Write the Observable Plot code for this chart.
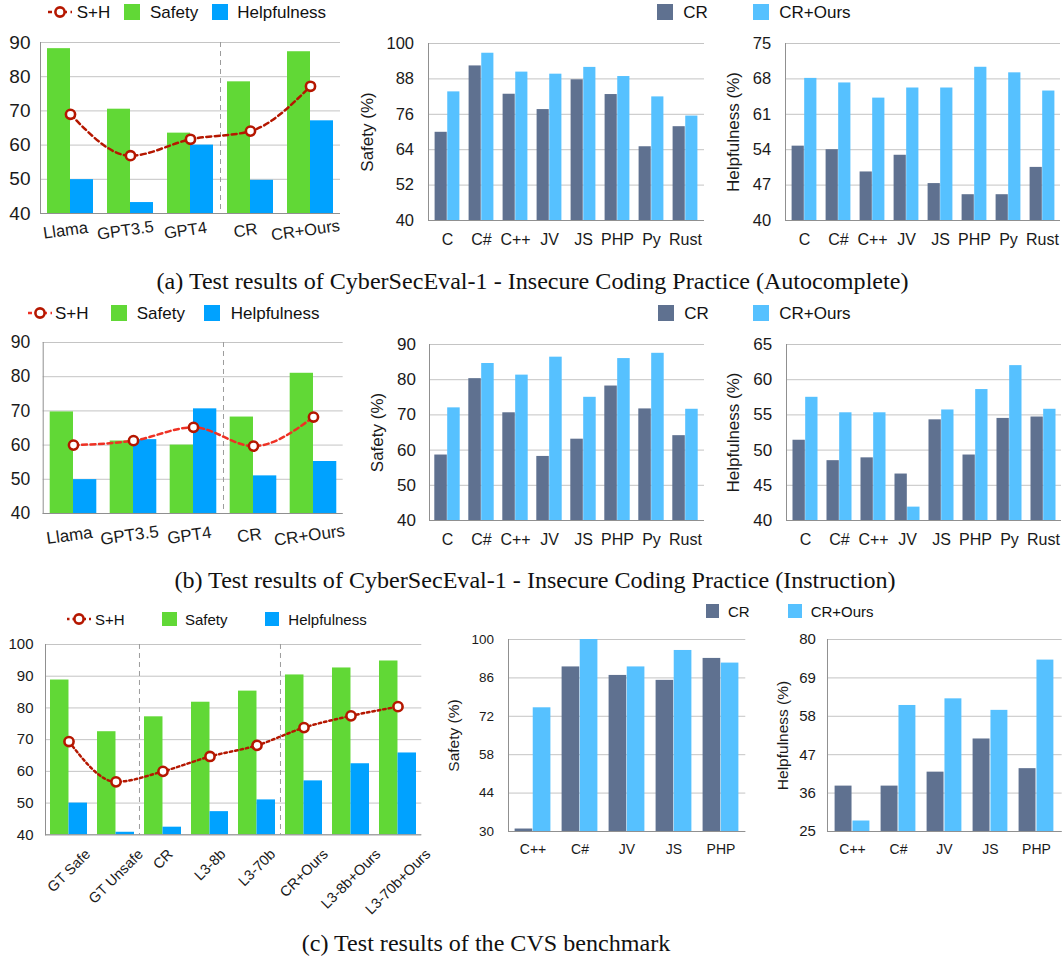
<!DOCTYPE html>
<html><head><meta charset="utf-8">
<script src="https://cdn.jsdelivr.net/npm/d3@7"></script>
<script src="https://cdn.jsdelivr.net/npm/@observablehq/plot@0.6"></script>
<style>
body{margin:0;background:#fff;width:1063px;height:957px;position:relative;overflow:hidden;font-family:"Liberation Sans",Arial,sans-serif;color:#1a1a1a;}
.abs{position:absolute;}
.cap{position:absolute;font-family:"Liberation Serif","Times New Roman",serif;font-size:24.1px;color:#111;white-space:nowrap;transform:translate(-50%,-50%);line-height:1;}
.lt{position:absolute;white-space:nowrap;transform:translateY(-50%);line-height:1;color:#111;}
svg{overflow:visible;}
</style></head><body>
<script>
// ---------- data ----------
const aModels = ["Llama","GPT3.5","GPT4","CR","CR+Ours"];
const aSafety = [88.2,70.5,63.5,78.5,87.3];
const aHelp   = [49.9,43.2,60.0,49.7,67.1];
const aSH     = [69.0,56.9,61.7,64.1,77.2];
const langs8  = ["C","C#","C++","JV","JS","PHP","Py","Rust"];
const aSafeCR   = [69.9,92.4,82.8,77.6,87.7,82.7,65.0,71.8];
const aSafeOurs = [83.6,96.7,90.3,89.6,91.9,88.8,81.9,75.4];
const aHelpCR   = [54.7,54.0,49.6,52.9,47.3,45.1,45.1,50.5];
const aHelpOurs = [68.1,67.2,64.2,66.2,66.2,70.3,69.2,65.6];

const bSafety = [69.7,61.2,60.0,68.2,81.0];
const bHelp   = [49.9,61.6,70.6,51.0,55.2];
const bSH     = [60.0,61.3,65.2,59.7,68.2];
const bSafeCR   = [58.6,80.3,70.6,58.2,63.1,78.2,71.7,64.1];
const bSafeOurs = [72.0,84.6,81.3,86.4,75.0,86.0,87.5,71.6];
const bHelpCR   = [51.4,48.5,48.9,46.6,54.3,49.3,54.5,54.7];
const bHelpOurs = [57.5,55.3,55.3,41.9,55.7,58.6,62.0,55.8];

const cModels = ["GT Safe","GT Unsafe","CR","L3-8b","L3-70b","CR+Ours","L3-8b+Ours","L3-70b+Ours"];
const cSafety = [88.8,72.5,77.2,81.8,85.3,90.4,92.6,94.8];
const cHelp   = [50.0,40.8,42.4,47.3,51.0,57.0,62.4,65.8];
const cSH     = [69.4,56.7,60.0,64.7,68.2,73.8,77.5,80.4];
const langs5  = ["C++","C#","JV","JS","PHP"];
const cSafeCR   = [30.9,90.0,86.9,85.1,93.1];
const cSafeOurs = [75.1,100,90.0,96.0,91.4];
const cHelpCR   = [38.0,38.0,42.0,51.5,43.0];
const cHelpOurs = [28.0,61.1,63.0,59.7,74.1];

const ticksLeftAB = [40,50,60,70,80,90];
const ticksASafe  = [40,52,64,76,88,100];
const ticksAHelp  = [40,47,54,61,68,75];
const ticksBSafe  = [40,50,60,70,80,90];
const ticksBHelp  = [40,45,50,55,60,65];
const ticksCLeft  = [40,50,60,70,80,90,100];
const ticksCSafe  = [30,44,58,72,86,100];
const ticksCHelp  = [25,36,47,58,69,80];

const legendLeft  = ["S+H","Safety","Helpfulness"];
const legendRight = ["CR","CR+Ours"];
const captions = [
  "(a) Test results of CyberSecEval-1 - Insecure Coding Practice (Autocomplete)",
  "(b) Test results of CyberSecEval-1 - Insecure Coding Practice (Instruction)",
  "(c) Test results of the CVS benchmark"
];

// ---------- styles ----------
const GREEN="#61d836", BLUE="#00a2ff", SLATE="#5f7190", SKY="#56c1ff", DRED="#b51700", RED="#ee3124";
const GRID="#c4c4c4", AXIS="#909090";

function panel(o){
  const n=o.cats.length, fw=o.x1-o.x0, fh=o.y1-o.y0;
  const step=fw/n, w=(step-2*o.gap)/2;
  const rows=o.cats.map((c,i)=>({c, a:o.s1[i], b:o.s2[i], l:o.line?o.line[i]:undefined}));
  const ymin=o.yDomain[0];
  const marks=[
    Plot.gridY(o.yTicks,{stroke:GRID,strokeOpacity:1,strokeWidth:1}),
    Plot.barY(rows,{x:"c",y1:ymin,y2:"a",fill:o.c1,insetLeft:o.gap,insetRight:o.gap+w}),
    Plot.barY(rows,{x:"c",y1:ymin,y2:"b",fill:o.c2,insetLeft:o.gap+w,insetRight:o.gap}),
    Plot.frame({anchor:"left",stroke:AXIS}),
    Plot.ruleY([ymin],{stroke:AXIS}),
    Plot.axisY(o.yTicks,{tickSize:0,tickPadding:o.tickPad,fontSize:o.yFont,label:null,fill:"#1a1a1a"})
  ];
  if(o.seps) marks.push(Plot.ruleX(o.seps,{dx:-step/2,stroke:"#9c9c9c",strokeDasharray:"5,4",strokeWidth:1}));
  if(o.line){
    marks.push(Plot.lineY(rows,{x:"c",y:"l",stroke:o.lineColor,strokeWidth:2.5,strokeDasharray:o.dash,curve:"monotone-x"}));
    marks.push(Plot.dot(rows,{x:"c",y:"l",r:4.6,fill:"white",stroke:o.dotColor,strokeWidth:2.6}));
  }
  if(o.yLabel) marks.push(Plot.text([o.yLabel],{frameAnchor:"left",rotate:-90,dx:-o.labelOffset,fontSize:o.labelFont,lineAnchor:"top",textAnchor:"middle",fill:"#1a1a1a"}));
  if(o.xMode==="axis"){
    marks.push(Plot.axisX({tickSize:0,tickPadding:13,fontSize:o.xFont,label:null,fill:"#1a1a1a"}));
  } else {
    marks.push(Plot.text(rows,{x:"c",y:ymin,text:"c",rotate:o.xRotate,dy:o.xDy,dx:o.xDx||0,fontSize:o.xFont,textAnchor:"middle",lineAnchor:"middle",fill:"#1a1a1a",ariaLabel:"xlab"}));
  }
  const svg=Plot.plot({
    width:fw+o.ml+o.mr, height:fh+o.mt+o.mb,
    marginLeft:o.ml, marginRight:o.mr, marginTop:o.mt, marginBottom:o.mb,
    x:{domain:o.cats,padding:0,axis:null},
    y:{domain:o.yDomain,axis:null},
    style:{fontFamily:"'Liberation Sans',Arial,sans-serif",background:"transparent",color:"#1a1a1a",overflow:"visible"},
    marks
  });
  svg.style.position="absolute";
  svg.style.left=(o.x0-o.ml)+"px";
  svg.style.top=(o.y0-o.mt)+"px";
  document.body.appendChild(svg);
  if(o.xMode==="diag"){
    const labels=new Set(o.cats);
    svg.querySelectorAll("text").forEach(t=>{
      if(!labels.has(t.textContent)) return;
      let L=t.getComputedTextLength();
      if(!L) L=t.getBBox().width;
      const d=0.354*L;
      // wrap in a group shifted downward in page coordinates
      const g=document.createElementNS("http://www.w3.org/2000/svg","g");
      g.setAttribute("transform",`translate(0,${d})`);
      t.parentNode.insertBefore(g,t);
      g.appendChild(t);
    });
  }
  return svg;
}

// ---------- row (a) ----------
panel({cats:aModels,s1:aSafety,s2:aHelp,line:aSH,c1:GREEN,c2:BLUE,lineColor:DRED,dotColor:DRED,dash:"5,3.5",
  x0:40,x1:340,y0:41.7,y1:212.7,ml:40,mr:5,mt:10,mb:40,gap:7,yDomain:[40,90],yTicks:ticksLeftAB,
  yFont:19,tickPad:10,xMode:"text",xRotate:-8,xDy:17,xDx:-5,xFont:16.5,seps:["CR"]});
panel({cats:langs8,s1:aSafeCR,s2:aSafeOurs,c1:SLATE,c2:SKY,
  x0:427.7,x1:703.7,y0:43.3,y1:220.3,ml:75,mr:3,mt:10,mb:35,gap:4.6,yDomain:[40,100],yTicks:ticksASafe,
  yFont:16.5,tickPad:14.5,yLabel:"Safety (%)",labelOffset:67.7,labelFont:17,xMode:"axis",xFont:16});
panel({cats:langs8,s1:aHelpCR,s2:aHelpOurs,c1:SLATE,c2:SKY,
  x0:785,x1:1060,y0:43.3,y1:220.3,ml:62,mr:3,mt:10,mb:35,gap:4.6,yDomain:[40,75],yTicks:ticksAHelp,
  yFont:16.5,tickPad:14.3,yLabel:"Helpfulness (%)",labelOffset:58.3,labelFont:17,xMode:"axis",xFont:16});

// ---------- row (b) ----------
panel({cats:aModels,s1:bSafety,s2:bHelp,line:bSH,c1:GREEN,c2:BLUE,lineColor:RED,dotColor:DRED,dash:"5,3.5",
  x0:42.7,x1:342.7,y0:342.3,y1:513.3,ml:42.7,mr:5,mt:10,mb:40,gap:6.7,yDomain:[40,90],yTicks:ticksLeftAB,
  yFont:17.5,tickPad:13,xMode:"text",xRotate:-8,xDy:22,xDx:-4,xFont:17,seps:["CR"]});
panel({cats:langs8,s1:bSafeCR,s2:bSafeOurs,c1:SLATE,c2:SKY,
  x0:429.3,x1:704.3,y0:344.3,y1:520.3,ml:75,mr:3,mt:10,mb:35,gap:4.3,yDomain:[40,90],yTicks:ticksBSafe,
  yFont:17,tickPad:13.6,yLabel:"Safety (%)",labelOffset:58.3,labelFont:17,xMode:"axis",xFont:16});
panel({cats:langs8,s1:bHelpCR,s2:bHelpOurs,c1:SLATE,c2:SKY,
  x0:786,x1:1061,y0:344.3,y1:520.3,ml:62,mr:2,mt:10,mb:35,gap:4.5,yDomain:[40,65],yTicks:ticksBHelp,
  yFont:17,tickPad:14.3,yLabel:"Helpfulness (%)",labelOffset:59.3,labelFont:17,xMode:"axis",xFont:16});

// ---------- row (c) ----------
panel({cats:cModels,s1:cSafety,s2:cHelp,line:cSH,c1:GREEN,c2:BLUE,lineColor:DRED,dotColor:DRED,dash:"2.5,3",
  x0:45,x1:421.3,y0:644,y1:834.3,ml:45,mr:5,mt:10,mb:110,gap:5,yDomain:[40,100],yTicks:ticksCLeft,
  yFont:15,tickPad:12,xMode:"diag",xRotate:-45,xDy:17,xFont:14.5,seps:["CR","CR+Ours"]});
panel({cats:langs5,s1:cSafeCR,s2:cSafeOurs,c1:SLATE,c2:SKY,
  x0:507.7,x1:745,y0:639,y1:831,ml:66,mr:3,mt:10,mb:35,gap:5.6,yDomain:[30,100],yTicks:ticksCSafe,
  yFont:13.5,tickPad:14.4,yLabel:"Safety (%)",labelOffset:60.4,labelFont:15.5,xMode:"axis",xFont:14});
panel({cats:langs5,s1:cHelpCR,s2:cHelpOurs,c1:SLATE,c2:SKY,
  x0:827.3,x1:1062,y0:639,y1:831,ml:56,mr:1,mt:10,mb:35,gap:5.6,yDomain:[25,80],yTicks:ticksCHelp,
  yFont:15,tickPad:11.6,yLabel:"Helpfulness (%)",labelOffset:50.6,labelFont:15.5,xMode:"axis",xFont:14});

// ---------- legends ----------
function sq(x,yc,s,color){
  const d=document.createElement("div");d.className="abs";
  Object.assign(d.style,{left:x+"px",top:(yc-s/2)+"px",width:s+"px",height:s+"px",background:color});
  document.body.appendChild(d);
}
function txt(x,yc,t,fs){
  const d=document.createElement("div");d.className="lt";d.textContent=t;
  Object.assign(d.style,{left:x+"px",top:yc+"px",fontSize:fs+"px"});
  document.body.appendChild(d);
}
function mk(cx,yc,lineColor,dotColor,dash){
  const ns="http://www.w3.org/2000/svg";
  const s=document.createElementNS(ns,"svg");
  s.setAttribute("width",28);s.setAttribute("height",16);
  Object.assign(s.style,{position:"absolute",left:(cx-14)+"px",top:(yc-8)+"px"});
  s.innerHTML=`<line x1="2" y1="8" x2="26" y2="8" stroke="${lineColor}" stroke-width="2.5" stroke-dasharray="${dash}"/><circle cx="14" cy="8" r="4.6" fill="white" stroke="${dotColor}" stroke-width="2.6"/>`;
  document.body.appendChild(s);
}
// row a
mk(60,11.7,DRED,DRED,"4,3.5"); txt(76.7,11.7,legendLeft[0],17);
sq(124,11.7,16,GREEN); txt(150,11.7,legendLeft[1],17);
sq(211.7,11.7,16,BLUE); txt(237.3,11.7,legendLeft[2],17);
sq(657.3,11.7,16,SLATE); txt(683.3,11.7,legendRight[0],17);
sq(753.3,11.7,16,SKY); txt(779.3,11.7,legendRight[1],17);
// row b
mk(40,312.7,RED,DRED,"4,3.5"); txt(55,312.7,legendLeft[0],17);
sq(110.7,312.7,16,GREEN); txt(136.7,312.7,legendLeft[1],17);
sq(204,312.7,16,BLUE); txt(230.7,312.7,legendLeft[2],17);
sq(658.3,312.7,16,SLATE); txt(684.3,312.7,legendRight[0],17);
sq(753.3,312.7,16,SKY); txt(779.3,312.7,legendRight[1],17);
// row c
mk(79,619,DRED,DRED,"2.5,3"); txt(95,619,legendLeft[0],15);
sq(162.3,619,14.4,GREEN); txt(185,619,legendLeft[1],15);
sq(265,619,14.4,BLUE); txt(288.3,619,legendLeft[2],15);
sq(705.7,611,13.5,SLATE); txt(728,611,legendRight[0],15);
sq(788.3,611,13.5,SKY); txt(810.7,611,legendRight[1],15);

// ---------- captions ----------
function cap(t,cx,cy){
  const d=document.createElement("div");d.className="cap";d.textContent=t;
  Object.assign(d.style,{left:cx+"px",top:cy+"px"});
  document.body.appendChild(d);
}
cap(captions[0],532.5,281);
cap(captions[1],535,580);
cap(captions[2],486,943);
</script>
</body></html>
